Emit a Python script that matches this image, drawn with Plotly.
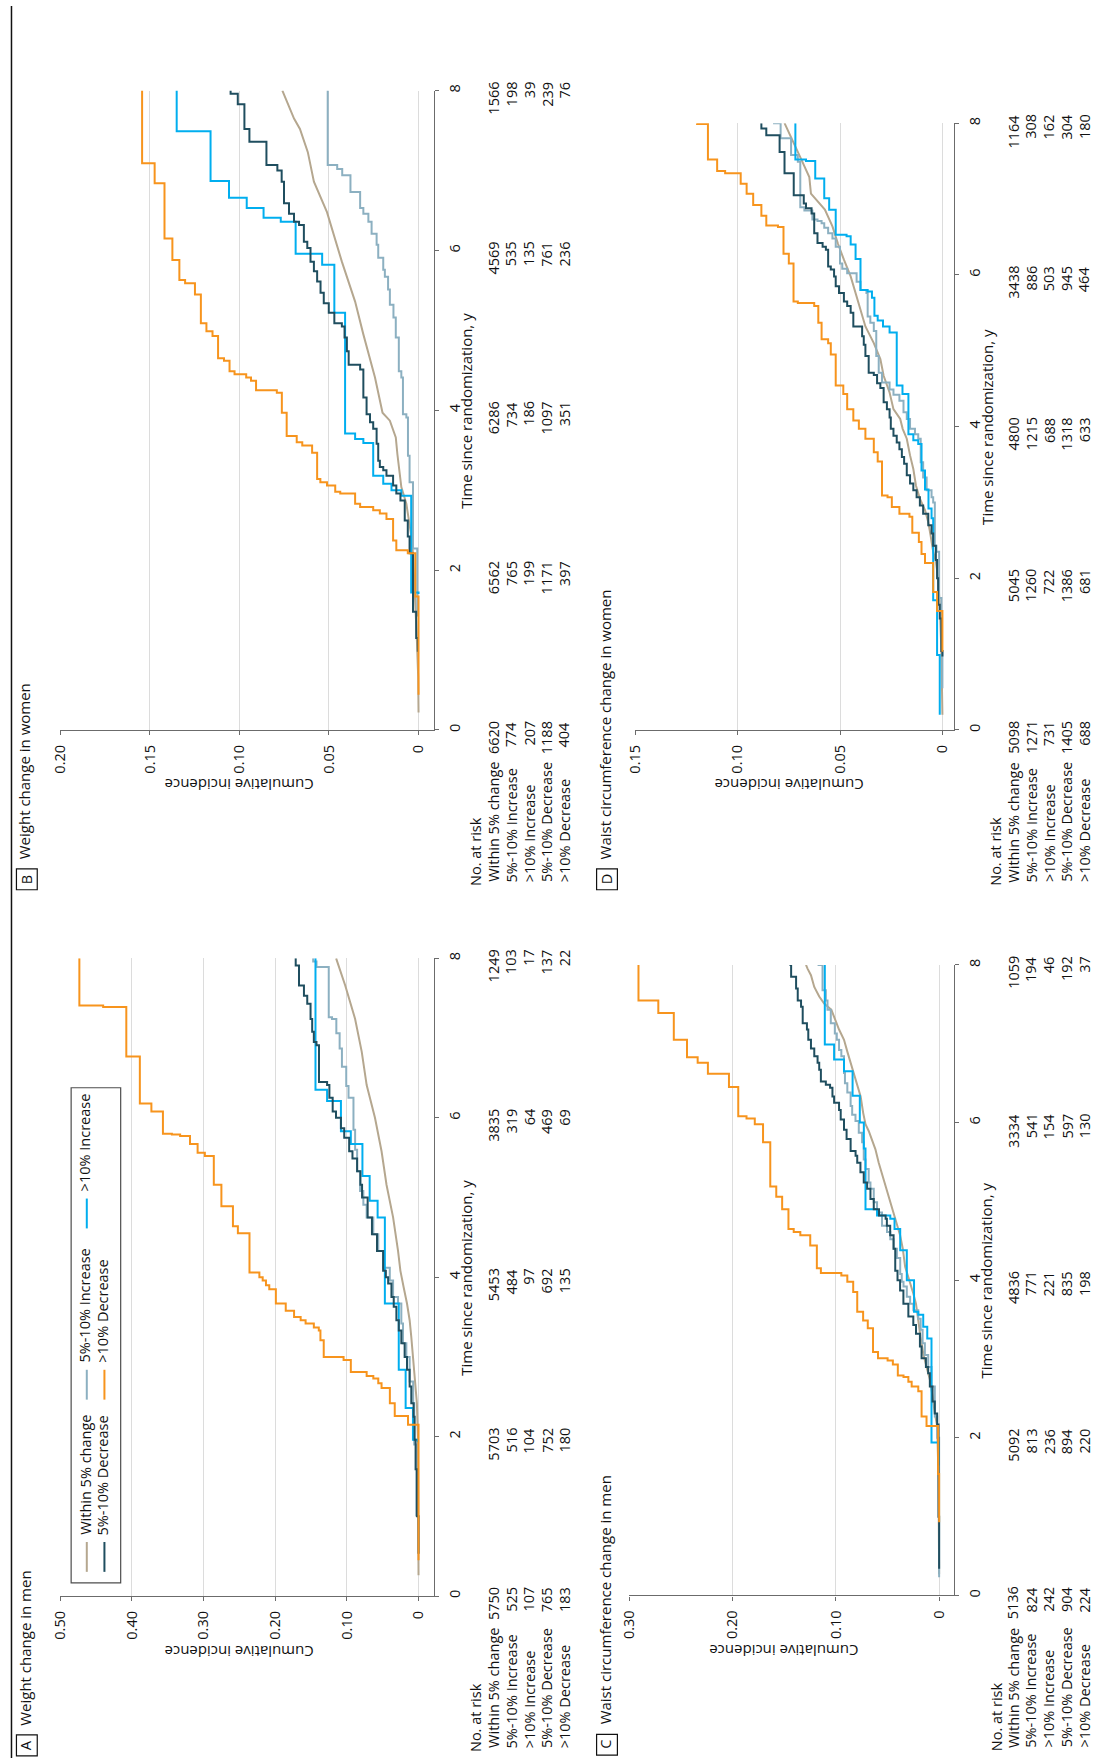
import plotly.graph_objects as go

W, H = 1095, 1760
FONT = "Open Sans"
TXT = "#111111"
AX = "#6b6b6b"
GRID = "#dcdcdc"

C_WITHIN = "#b5a78f"
C_INC5 = "#8cb0c1"
C_INC10 = "#00aeef"
C_DEC5 = "#1f4e5f"
C_DEC10 = "#f7941d"

TIME_TICKS = [0, 2, 4, 6, 8]
TIME_TICKTEXT = ["0", "2", "4", "6", "8"]
ROW_LABELS = ["Within 5% change", "5%-10% Increase", ">10% Increase", "5%-10% Decrease", ">10% Decrease"]

# ---------------- Panel A: Weight change in men ----------------
A_TICKS = [0, 0.1, 0.2, 0.3, 0.4, 0.5]
A_TICKTEXT = ["0", "0.10", "0.20", "0.30", "0.40", "0.50"]
A_within_t = [0.26, 1.59, 2.0, 2.42, 2.63, 2.84, 3.25, 3.46, 3.67, 3.87, 4.08, 4.33, 4.75, 5.16, 5.58, 6.0, 6.41, 6.83, 7.24, 7.66, 8.0]
A_within_v = [0, 0.0005, 0.0009, 0.0023, 0.0041, 0.0069, 0.0101, 0.0124, 0.0161, 0.0207, 0.0253, 0.0286, 0.0355, 0.0447, 0.0516, 0.0608, 0.0724, 0.0793, 0.0885, 0.1023, 0.1150]
A_inc5_t = [1.0, 1.9, 2.42, 2.69, 3.0, 3.17, 3.42, 3.67, 3.75, 3.96, 4.12, 4.33, 4.54, 4.75, 4.91, 5.08, 5.33, 5.6, 5.85, 6.25, 6.4, 6.64, 6.87, 7.06, 7.24, 7.26, 7.89, 7.96, 8.0]
A_inc5_v = [0.003, 0.006, 0.0075, 0.0124, 0.0170, 0.0217, 0.0240, 0.0286, 0.0355, 0.0401, 0.0493, 0.0562, 0.0631, 0.0724, 0.0770, 0.0816, 0.0857, 0.0885, 0.0908, 0.0977, 0.1009, 0.1069, 0.1101, 0.1147, 0.1207, 0.1253, 0.1424, 0.1470, 0.1470]
A_inc10_t = [1.93, 1.96, 2.36, 2.84, 3.67, 4.75, 4.96, 5.27, 5.67, 5.83, 6.21, 6.35, 8.0]
A_inc10_v = [0.001, 0.0078, 0.018, 0.0276, 0.047, 0.0571, 0.0682, 0.0783, 0.0945, 0.1083, 0.1276, 0.1438, 0.1438]
A_dec5_t = [0.53, 1.0, 1.59, 1.96, 2.25, 2.42, 2.63, 2.84, 3.0, 3.17, 3.33, 3.46, 3.63, 3.75, 3.92, 4.0, 4.08, 4.33, 4.54, 4.75, 5.0, 5.16, 5.33, 5.49, 5.58, 5.75, 5.87, 6.0, 6.08, 6.25, 6.41, 6.45, 6.91, 6.95, 7.08, 7.24, 7.43, 7.53, 7.66, 7.91, 8.0]
A_dec5_v = [0, 0.0023, 0.0041, 0.0055, 0.0069, 0.0101, 0.0124, 0.0161, 0.0194, 0.0240, 0.0276, 0.0309, 0.0346, 0.0378, 0.0424, 0.0456, 0.0494, 0.058, 0.065, 0.071, 0.0788, 0.0811, 0.0857, 0.0922, 0.0968, 0.1037, 0.1083, 0.1152, 0.1198, 0.1244, 0.1276, 0.1389, 0.1424, 0.1461, 0.1484, 0.1507, 0.1553, 0.1599, 0.1668, 0.1714, 0.1714]
A_dec10_t = [0.45, 2.15, 2.26, 2.42, 2.61, 2.67, 2.73, 2.76, 2.81, 2.96, 3.0, 3.21, 3.33, 3.37, 3.42, 3.46, 3.5, 3.58, 3.67, 3.85, 3.9, 3.96, 4.0, 4.06, 4.55, 4.64, 4.89, 5.16, 5.52, 5.56, 5.67, 5.77, 5.79, 5.8, 6.08, 6.18, 6.77, 7.39, 7.41, 8.0]
A_dec10_v = [0, 0.0147, 0.0332, 0.040, 0.0516, 0.0562, 0.0631, 0.0724, 0.0945, 0.1046, 0.1323, 0.1369, 0.1392, 0.1461, 0.1576, 0.1645, 0.1737, 0.1853, 0.1991, 0.2083, 0.2129, 0.2175, 0.2221, 0.2359, 0.2521, 0.259, 0.2751, 0.2857, 0.2982, 0.3083, 0.3189, 0.3327, 0.3442, 0.3567, 0.3728, 0.3889, 0.4078, 0.4401, 0.4733, 0.4733]
A_risk_within = [5750, 5703, 5453, 3835, 1249]
A_risk_inc5 = [525, 516, 484, 319, 103]
A_risk_inc10 = [107, 104, 97, 64, 17]
A_risk_dec5 = [765, 752, 692, 469, 137]
A_risk_dec10 = [183, 180, 135, 69, 22]

# ---------------- Panel B: Weight change in women ----------------
B_TICKS = [0, 0.05, 0.10, 0.15, 0.20]
B_TICKTEXT = ["0", "0.05", "0.10", "0.15", "0.20"]
B_within_t = [0.22, 0.67, 1.17, 1.59, 2.21, 2.42, 2.62, 2.83, 3.04, 3.25, 3.45, 3.66, 3.87, 3.97, 4.41, 4.95, 5.36, 5.86, 6.19, 6.48, 6.86, 7.23, 7.52, 7.65, 8.0]
B_within_v = [0, 0.0002, 0.001, 0.0017, 0.0031, 0.004, 0.0053, 0.0068, 0.0096, 0.0109, 0.0118, 0.0127, 0.016, 0.0201, 0.0243, 0.0308, 0.0354, 0.0428, 0.0474, 0.0511, 0.0584, 0.0618, 0.0662, 0.0695, 0.076]
B_inc5_t = [1.42, 2.27, 3.10, 3.43, 3.91, 3.95, 4.41, 4.49, 4.91, 5.16, 5.32, 5.51, 5.67, 5.76, 5.91, 6.07, 6.21, 6.36, 6.46, 6.53, 6.73, 6.94, 7.02, 7.07, 8.0]
B_inc5_v = [0.0007, 0.0031, 0.005, 0.0059, 0.0068, 0.0087, 0.0096, 0.011, 0.0127, 0.014, 0.016, 0.017, 0.0188, 0.0197, 0.0225, 0.0234, 0.0262, 0.028, 0.0308, 0.0326, 0.038, 0.0426, 0.0454, 0.0507, 0.0507]
B_inc10_t = [1.70, 1.72, 2.93, 3.0, 3.08, 3.18, 3.59, 3.64, 3.71, 5.22, 5.82, 5.96, 6.36, 6.41, 6.53, 6.66, 6.87, 7.49, 8.0]
B_inc10_v = [0.0, 0.0041, 0.0096, 0.0151, 0.0197, 0.0253, 0.0308, 0.0354, 0.041, 0.047, 0.0538, 0.0686, 0.0769, 0.0865, 0.0959, 0.1058, 0.1161, 0.135, 0.135]
B_dec5_t = [0.98, 1.15, 1.48, 2.21, 2.42, 2.62, 2.87, 2.96, 3.06, 3.18, 3.25, 3.29, 3.37, 3.58, 3.77, 3.85, 3.95, 4.16, 4.51, 4.57, 4.74, 4.91, 5.05, 5.09, 5.22, 5.34, 5.47, 5.61, 5.74, 5.86, 6.03, 6.11, 6.32, 6.36, 6.46, 6.59, 6.86, 7.0, 7.07, 7.36, 7.52, 7.83, 7.96, 8.0]
B_dec5_v = [0.0004, 0.0013, 0.0031, 0.005, 0.006, 0.0077, 0.0101, 0.0124, 0.0142, 0.0179, 0.0197, 0.0216, 0.0225, 0.0234, 0.0253, 0.0271, 0.029, 0.0308, 0.0326, 0.039, 0.04, 0.0413, 0.0428, 0.047, 0.0501, 0.0529, 0.0547, 0.0566, 0.0584, 0.0603, 0.0621, 0.064, 0.0667, 0.0695, 0.0723, 0.0751, 0.0764, 0.0788, 0.0849, 0.0944, 0.0972, 0.1009, 0.1049, 0.1049]
B_dec10_t = [0.44, 1.67, 2.21, 2.25, 2.37, 2.64, 2.71, 2.75, 2.79, 2.83, 2.96, 2.98, 3.06, 3.10, 3.14, 3.47, 3.56, 3.60, 3.68, 3.97, 4.22, 4.25, 4.37, 4.41, 4.45, 4.49, 4.62, 4.65, 4.93, 4.99, 5.09, 5.45, 5.59, 5.63, 5.88, 6.15, 6.84, 7.09, 8.0]
B_dec10_v = [0, 0.0018, 0.006, 0.0124, 0.0142, 0.0179, 0.0216, 0.0253, 0.0326, 0.0354, 0.0437, 0.0465, 0.0511, 0.0548, 0.0566, 0.0594, 0.0649, 0.068, 0.0736, 0.0763, 0.0791, 0.0907, 0.0935, 0.0962, 0.1027, 0.1055, 0.1086, 0.1119, 0.115, 0.1184, 0.1215, 0.1248, 0.1303, 0.1335, 0.1374, 0.1418, 0.1473, 0.1543, 0.1543]
B_risk_within = [6620, 6562, 6286, 4569, 1566]
B_risk_inc5 = [774, 765, 734, 535, 198]
B_risk_inc10 = [207, 199, 186, 135, 39]
B_risk_dec5 = [1188, 1171, 1097, 761, 239]
B_risk_dec10 = [404, 397, 351, 236, 76]

# ---------------- Panel C: Waist circumference change in men ----------------
C_TICKS = [0, 0.1, 0.2, 0.3]
C_TICKTEXT = ["0", "0.10", "0.20", "0.30"]
C_within_t = [0.27, 1.5, 2.15, 2.31, 2.53, 2.74, 2.9, 3.07, 3.28, 3.49, 3.7, 3.83, 3.96, 4.08, 4.17, 4.4, 4.57, 4.78, 4.92, 5.07, 5.2, 5.32, 5.49, 5.66, 5.79, 5.89, 5.98, 6.12, 6.33, 6.5, 6.59, 6.73, 6.9, 7.05, 7.18, 7.34, 7.43, 7.51, 7.6, 7.72, 7.87, 7.95, 8.0]
C_within_v = [0, 0.0006, 0.0019, 0.0042, 0.0064, 0.009, 0.0122, 0.0154, 0.018, 0.0202, 0.0224, 0.025, 0.0281, 0.0313, 0.0329, 0.0352, 0.0378, 0.0425, 0.0457, 0.0489, 0.0521, 0.0553, 0.0585, 0.0617, 0.0649, 0.0681, 0.0713, 0.0735, 0.076, 0.0799, 0.0819, 0.0857, 0.0889, 0.0921, 0.0969, 0.1017, 0.1043, 0.1113, 0.1161, 0.1209, 0.1241, 0.1273, 0.1289]
C_inc5_t = [0.23, 2.0, 2.27, 2.65, 2.9, 3.05, 3.2, 3.37, 3.51, 3.62, 3.7, 3.79, 3.92, 3.98, 4.08, 4.28, 4.4, 4.52, 4.61, 4.69, 4.86, 4.99, 5.16, 5.24, 5.41, 5.53, 5.75, 5.87, 6.02, 6.1, 6.21, 6.38, 6.5, 6.63, 6.84, 6.92, 7.05, 7.13, 7.26, 7.43, 7.55, 7.68, 8.0]
C_inc5_v = [0, 0.0019, 0.0042, 0.0074, 0.0106, 0.0138, 0.016, 0.0179, 0.0202, 0.0249, 0.0281, 0.0313, 0.0345, 0.0362, 0.0377, 0.0409, 0.0441, 0.0473, 0.0505, 0.0553, 0.0601, 0.0633, 0.0665, 0.0682, 0.0713, 0.073, 0.0746, 0.0778, 0.081, 0.0842, 0.0857, 0.0889, 0.0912, 0.0921, 0.0947, 0.0969, 0.0991, 0.101, 0.1049, 0.1081, 0.1097, 0.1129, 0.1177]
C_inc10_t = [1.65, 1.94, 3.26, 3.41, 3.56, 3.6, 4.0, 4.38, 4.65, 4.78, 4.82, 4.9, 5.67, 6.0, 6.34, 6.65, 6.8, 6.99, 8.0]
C_inc10_v = [0.0006, 0.0074, 0.0115, 0.0154, 0.0202, 0.0243, 0.0313, 0.0377, 0.0432, 0.0473, 0.0601, 0.0713, 0.0729, 0.0768, 0.0838, 0.0921, 0.1017, 0.1107, 0.1107]
C_dec5_t = [0.34, 1.0, 2.17, 2.31, 2.46, 2.65, 2.82, 2.9, 3.01, 3.16, 3.32, 3.43, 3.54, 3.7, 3.87, 4.0, 4.12, 4.4, 4.57, 4.69, 4.78, 4.82, 4.9, 5.03, 5.16, 5.24, 5.37, 5.49, 5.58, 5.64, 5.79, 5.91, 6.04, 6.16, 6.25, 6.33, 6.44, 6.48, 6.52, 6.67, 6.76, 6.84, 6.94, 7.05, 7.18, 7.26, 7.47, 7.55, 7.7, 7.85, 8.0]
C_dec5_v = [0, 0.0006, 0.0019, 0.0042, 0.0064, 0.009, 0.0106, 0.0128, 0.017, 0.0186, 0.0224, 0.025, 0.0298, 0.0346, 0.0378, 0.0403, 0.0425, 0.0441, 0.0474, 0.0506, 0.0518, 0.0582, 0.0633, 0.0665, 0.0697, 0.073, 0.0762, 0.0793, 0.0809, 0.0857, 0.0896, 0.0921, 0.0953, 0.0969, 0.1017, 0.1033, 0.1056, 0.1097, 0.1145, 0.1161, 0.1177, 0.1209, 0.1241, 0.1267, 0.128, 0.1321, 0.1337, 0.1369, 0.1385, 0.1433, 0.1449]
C_dec10_t = [0.93, 1.54, 2.15, 2.27, 2.59, 2.65, 2.71, 2.77, 2.79, 2.93, 2.98, 3.01, 3.09, 3.39, 3.49, 3.6, 3.85, 3.98, 4.06, 4.09, 4.15, 4.44, 4.57, 4.61, 4.65, 4.9, 5.06, 5.19, 5.75, 5.98, 6.05, 6.08, 6.45, 6.62, 6.76, 6.83, 7.05, 7.39, 7.55, 8.0]
C_dec10_v = [0, 0.001, 0.0122, 0.017, 0.0202, 0.0266, 0.0298, 0.0345, 0.04, 0.0448, 0.0499, 0.0592, 0.064, 0.0691, 0.0736, 0.0793, 0.0832, 0.0889, 0.0947, 0.1145, 0.1184, 0.1248, 0.1344, 0.1408, 0.1459, 0.152, 0.1577, 0.1635, 0.1705, 0.1785, 0.1865, 0.1945, 0.2035, 0.2239, 0.2338, 0.2441, 0.2569, 0.2719, 0.2911, 0.2911]
C_risk_within = [5136, 5092, 4836, 3334, 1059]
C_risk_inc5 = [824, 813, 771, 541, 194]
C_risk_inc10 = [242, 236, 221, 154, 46]
C_risk_dec5 = [904, 894, 835, 597, 192]
C_risk_dec10 = [224, 220, 198, 130, 37]

# ---------------- Panel D: Waist circumference change in women ----------------
D_TICKS = [0, 0.05, 0.10, 0.15]
D_TICKTEXT = ["0", "0.05", "0.10", "0.15"]
D_within_t = [0.2, 1.04, 1.65, 2.0, 2.22, 2.35, 2.57, 2.74, 2.9, 3.05, 3.22, 3.44, 3.62, 3.84, 3.97, 4.1, 4.23, 4.45, 4.67, 4.89, 5.1, 5.32, 5.54, 5.76, 5.98, 6.2, 6.41, 6.64, 6.86, 7.07, 7.29, 7.51, 7.73, 8.0]
D_within_v = [0, 0.0005, 0.0013, 0.0021, 0.0032, 0.0045, 0.0058, 0.0069, 0.0085, 0.011, 0.0129, 0.0142, 0.0158, 0.0174, 0.0194, 0.0206, 0.0239, 0.0258, 0.0287, 0.0303, 0.0335, 0.0376, 0.04, 0.0424, 0.0448, 0.0481, 0.051, 0.0537, 0.0574, 0.0642, 0.065, 0.0687, 0.0723, 0.0771]
D_inc5_t = [0.55, 1.04, 1.74, 2.35, 2.43, 3.0, 3.07, 3.16, 3.33, 3.53, 3.84, 3.9, 3.97, 4.1, 4.19, 4.34, 4.42, 4.49, 4.58, 4.71, 4.93, 5.26, 5.37, 5.45, 5.76, 5.8, 5.91, 6.02, 6.08, 6.15, 6.37, 6.48, 6.55, 6.62, 6.68, 6.71, 6.73, 6.85, 6.89, 7.49, 7.58, 7.8, 8.0]
D_inc5_v = [0, 0.0005, 0.0016, 0.0029, 0.0037, 0.0045, 0.0053, 0.0077, 0.0094, 0.0106, 0.0118, 0.0134, 0.0158, 0.0174, 0.019, 0.021, 0.0239, 0.0258, 0.0295, 0.0311, 0.0323, 0.0335, 0.0352, 0.0365, 0.0371, 0.04, 0.0419, 0.0465, 0.0489, 0.05, 0.0521, 0.0537, 0.0558, 0.0577, 0.059, 0.061, 0.0635, 0.0674, 0.0694, 0.0706, 0.0739, 0.079, 0.0827]
D_inc10_t = [0.2, 0.99, 1.71, 2.79, 2.92, 3.17, 3.42, 3.77, 3.82, 3.9, 4.43, 4.54, 5.24, 5.32, 5.4, 5.46, 5.7, 5.78, 5.8, 6.21, 6.4, 6.51, 6.53, 6.86, 7.01, 7.27, 7.5, 7.52, 8.0]
D_inc10_v = [0.0013, 0.0026, 0.0045, 0.0053, 0.0068, 0.0085, 0.0102, 0.0118, 0.0142, 0.0166, 0.0195, 0.0223, 0.0258, 0.029, 0.0316, 0.0332, 0.0344, 0.0365, 0.04, 0.0424, 0.0448, 0.0468, 0.0521, 0.0553, 0.0577, 0.0621, 0.0666, 0.0718, 0.0718]
D_dec5_t = [0.97, 1.04, 1.47, 1.65, 2.0, 2.24, 2.43, 2.59, 2.7, 2.85, 2.96, 3.07, 3.16, 3.25, 3.36, 3.51, 3.6, 3.7, 3.79, 3.88, 3.97, 4.12, 4.23, 4.32, 4.51, 4.57, 4.68, 4.71, 4.93, 5.08, 5.19, 5.32, 5.5, 5.59, 5.65, 5.76, 5.85, 5.98, 6.07, 6.11, 6.33, 6.37, 6.42, 6.55, 6.81, 6.88, 6.94, 7.05, 7.34, 7.62, 7.84, 7.93, 8.0]
D_dec5_v = [0, 0.0005, 0.0013, 0.0021, 0.0026, 0.0032, 0.0045, 0.0053, 0.0069, 0.0094, 0.011, 0.0126, 0.0142, 0.0158, 0.0174, 0.0187, 0.0198, 0.021, 0.0223, 0.0239, 0.0252, 0.0258, 0.0271, 0.0287, 0.0303, 0.0319, 0.0335, 0.036, 0.0376, 0.0384, 0.0392, 0.0435, 0.0448, 0.0465, 0.0481, 0.0505, 0.0521, 0.0529, 0.0545, 0.0558, 0.0569, 0.0585, 0.061, 0.0626, 0.0639, 0.0666, 0.0677, 0.0726, 0.0771, 0.0795, 0.086, 0.0884, 0.0884]
D_dec10_t = [1.03, 1.57, 1.82, 2.2, 2.32, 2.48, 2.6, 2.81, 2.85, 2.94, 3.07, 3.09, 3.54, 3.66, 3.84, 3.97, 4.08, 4.23, 4.43, 4.54, 4.95, 5.1, 5.15, 5.37, 5.59, 5.63, 5.65, 6.15, 6.28, 6.63, 6.65, 6.78, 6.92, 7.07, 7.2, 7.34, 7.37, 7.52, 7.99, 8.0]
D_dec10_v = [0, 0.0026, 0.0045, 0.0085, 0.0102, 0.0115, 0.0147, 0.0161, 0.021, 0.0247, 0.0268, 0.0295, 0.0316, 0.0335, 0.0376, 0.0408, 0.0435, 0.0465, 0.0484, 0.0521, 0.0545, 0.0558, 0.059, 0.0606, 0.0626, 0.0706, 0.0727, 0.075, 0.0776, 0.0803, 0.086, 0.0884, 0.0924, 0.0956, 0.0985, 0.1061, 0.110, 0.1145, 0.1198, 0.1198]
D_risk_within = [5098, 5045, 4800, 3438, 1164]
D_risk_inc5 = [1271, 1260, 1215, 886, 308]
D_risk_inc10 = [731, 722, 688, 503, 162]
D_risk_dec5 = [1405, 1386, 1318, 945, 304]
D_risk_dec10 = [688, 681, 633, 464, 180]

# ---------------- layout geometry (pixels of the 1095x1760 page) ----------------
PANELS = [
    dict(n=1, letter="A", title="Weight change in men", x0=50.7, xz=412.3, x1=427.7, yt8=956.7, yt0=1597.3,
         vmax=0.5, ticks=A_TICKS, ticktext=A_TICKTEXT, lab_x=17,
         series=[(A_within_t, A_within_v, C_WITHIN, "linear"), (A_inc5_t, A_inc5_v, C_INC5, "vh"),
                 (A_inc10_t, A_inc10_v, C_INC10, "vh"), (A_dec5_t, A_dec5_v, C_DEC5, "vh"),
                 (A_dec10_t, A_dec10_v, C_DEC10, "vh")],
         risk=[A_risk_within, A_risk_inc5, A_risk_inc10, A_risk_dec5, A_risk_dec10]),
    dict(n=2, letter="B", title="Weight change in women", x0=50.7, xz=412.3, x1=427.7, yt8=85.0, yt0=727.3,
         vmax=0.2, ticks=B_TICKS, ticktext=B_TICKTEXT, lab_x=17,
         series=[(B_within_t, B_within_v, C_WITHIN, "linear"), (B_inc5_t, B_inc5_v, C_INC5, "vh"),
                 (B_inc10_t, B_inc10_v, C_INC10, "vh"), (B_dec5_t, B_dec5_v, C_DEC5, "vh"),
                 (B_dec10_t, B_dec10_v, C_DEC10, "vh")],
         risk=[B_risk_within, B_risk_inc5, B_risk_inc10, B_risk_dec5, B_risk_dec10]),
    dict(n=3, letter="C", title="Waist circumference change in men", x0=625.0, xz=937.7, x1=952.3, yt8=963.3, yt0=1596.7,
         vmax=0.3, ticks=C_TICKS, ticktext=C_TICKTEXT, lab_x=602.5,
         series=[(C_within_t, C_within_v, C_WITHIN, "linear"), (C_inc5_t, C_inc5_v, C_INC5, "vh"),
                 (C_inc10_t, C_inc10_v, C_INC10, "vh"), (C_dec5_t, C_dec5_v, C_DEC5, "vh"),
                 (C_dec10_t, C_dec10_v, C_DEC10, "vh")],
         risk=[C_risk_within, C_risk_inc5, C_risk_inc10, C_risk_dec5, C_risk_dec10]),
    dict(n=4, letter="D", title="Waist circumference change in women", x0=631.0, xz=941.0, x1=952.3, yt8=117.7, yt0=727.3,
         vmax=0.15, ticks=D_TICKS, ticktext=D_TICKTEXT, lab_x=602.5,
         series=[(D_within_t, D_within_v, C_WITHIN, "linear"), (D_inc5_t, D_inc5_v, C_INC5, "vh"),
                 (D_inc10_t, D_inc10_v, C_INC10, "vh"), (D_dec5_t, D_dec5_v, C_DEC5, "vh"),
                 (D_dec10_t, D_dec10_v, C_DEC10, "vh")],
         risk=[D_risk_within, D_risk_inc5, D_risk_inc10, D_risk_dec5, D_risk_dec10]),
]

DX = -2  # small visual correction for rotated text boxes


def px(x):
    return x / W


def py(y):
    return 1 - y / H


fig = go.Figure()
annotations = []
shapes = []
layout_axes = {}

TICK_FONT = dict(family=FONT, size=14.5, color=TXT)
TAB_FONT = dict(family=FONT, size=14.5, color=TXT)
AXT_FONT = dict(family=FONT, size=15, color=TXT)
TITLE_FONT = dict(family=FONT, size=15, color=TXT)

for p in PANELS:
    n = p["n"]
    xname = "xaxis" if n == 1 else f"xaxis{n}"
    yname = "yaxis" if n == 1 else f"yaxis{n}"
    xref = "x" if n == 1 else f"x{n}"
    yref = "y" if n == 1 else f"y{n}"
    scale = (p["xz"] - p["x0"]) / p["vmax"]
    vmin = -(p["x1"] - p["xz"]) / scale

    layout_axes[xname] = dict(
        domain=[px(p["x0"]), px(p["x1"])], range=[p["vmax"], vmin], anchor=yref,
        tickmode="array", tickvals=p["ticks"], ticktext=p["ticktext"], tickangle=-90,
        ticks="outside", ticklen=4, tickwidth=1.2, tickcolor=AX,
        showline=True, linecolor=AX, linewidth=1.3,
        showgrid=True, gridcolor=GRID, gridwidth=1.3, zeroline=False,
        tickfont=TICK_FONT, ticklabelstandoff=4, fixedrange=True)
    layout_axes[yname] = dict(
        domain=[py(p["yt0"]), py(p["yt8"])], range=[0, 8], anchor=xref, side="right",
        tickmode="array", tickvals=TIME_TICKS, ticktext=TIME_TICKTEXT, tickangle=-90,
        ticks="outside", ticklen=4, tickwidth=1.2, tickcolor=AX,
        showline=True, linecolor=AX, linewidth=1.3,
        showgrid=False, zeroline=False, tickfont=TICK_FONT, ticklabelstandoff=4, fixedrange=True)

    for t, v, col, shape in p["series"]:
        fig.add_trace(go.Scatter(x=v, y=t, xaxis=xref, yaxis=yref, mode="lines",
                                 line=dict(color=col, width=2, shape=shape),
                                 showlegend=False, hoverinfo="skip"))

    # axis titles
    annotations.append(dict(text="Cumulative incidence", textangle=180, xref="paper", yref="paper",
                            x=px((p["x0"] + p["xz"]) / 2), y=py(p["yt0"] + 56), xanchor="center",
                            yanchor="middle", showarrow=False, font=AXT_FONT))
    annotations.append(dict(text="Time since randomization, y", textangle=-90, xref="paper", yref="paper",
                            x=px(p["x1"] + 35 + DX), y=py((p["yt0"] + p["yt8"]) / 2), xanchor="center",
                            yanchor="middle", showarrow=False, font=AXT_FONT))

    # number at risk table
    annotations.append(dict(text="No. at risk", textangle=-90, xref="paper", yref="paper",
                            x=px(p["x1"] + 44.8 + DX), y=py(p["yt0"] + 159), xanchor="center",
                            yanchor="bottom", showarrow=False, font=TAB_FONT))
    for r, (lab, counts) in enumerate(zip(ROW_LABELS, p["risk"])):
        rx = p["x1"] + 62.3 + 17.9 * r + DX
        annotations.append(dict(text=lab, textangle=-90, xref="paper", yref="paper",
                                x=px(rx), y=py(p["yt0"] + 155), xanchor="center",
                                yanchor="bottom", showarrow=False, font=TAB_FONT))
        for tt, cnt in zip(TIME_TICKS, counts):
            annotations.append(dict(text=str(cnt), textangle=-90, xref="paper", yref=yref,
                                    x=px(rx), y=tt, xanchor="center", yanchor="top", yshift=11,
                                    showarrow=False, font=TAB_FONT))

    # panel letter box and title
    lab_y = p["yt0"] + 150
    shapes.append(dict(type="rect", xref="paper", yref="paper",
                       x0=px(p["lab_x"] - 10.5), x1=px(p["lab_x"] + 10.5),
                       y0=py(lab_y - 10.5), y1=py(lab_y + 10.5),
                       line=dict(color=TXT, width=1.2), fillcolor="rgba(0,0,0,0)"))
    annotations.append(dict(text=p["letter"], textangle=-90, xref="paper", yref="paper",
                            x=px(p["lab_x"] - 1), y=py(lab_y), xanchor="center", yanchor="middle",
                            showarrow=False, font=dict(family=FONT, size=14.5, color=TXT)))
    annotations.append(dict(text=p["title"], textangle=-90, xref="paper", yref="paper",
                            x=px(p["lab_x"] + DX), y=py(lab_y - 18), xanchor="center", yanchor="bottom",
                            showarrow=False, font=TITLE_FONT))

# legend (panel A) drawn manually, rotated like the figure
LEG_BOX = (61.7, 111.7, 1086.7, 1584.0)
shapes.append(dict(type="rect", xref="paper", yref="paper",
                   x0=px(LEG_BOX[0]), x1=px(LEG_BOX[1]), y0=py(LEG_BOX[3]), y1=py(LEG_BOX[2]),
                   line=dict(color="#4d4d4d", width=1.2), fillcolor="white", layer="above"))
LEGEND_ITEMS = [
    ("Within 5% change", C_WITHIN, 77.5, 1573),
    ("5%-10% Increase", C_INC5, 77.5, 1400),
    (">10% Increase", C_INC10, 77.5, 1228),
    ("5%-10% Decrease", C_DEC5, 95.3, 1573),
    (">10% Decrease", C_DEC10, 95.3, 1400),
]
for lab, col, lx, lyb in LEGEND_ITEMS:
    shapes.append(dict(type="line", xref="paper", yref="paper", x0=px(lx), x1=px(lx),
                       y0=py(lyb), y1=py(lyb - 30), line=dict(color=col, width=2), layer="above"))
    annotations.append(dict(text=lab, textangle=-90, xref="paper", yref="paper",
                            x=px(lx + DX), y=py(lyb - 35), xanchor="center", yanchor="bottom",
                            showarrow=False, font=TAB_FONT))

# left border rule
shapes.append(dict(type="line", xref="paper", yref="paper", x0=px(1.5), x1=px(1.5), y0=0, y1=1,
                   line=dict(color=TXT, width=1.5)))

fig.update_layout(
    width=W, height=H, autosize=False,
    margin=dict(l=0, r=0, t=0, b=0),
    paper_bgcolor="white", plot_bgcolor="white",
    showlegend=False,
    annotations=annotations, shapes=shapes,
    font=dict(family=FONT, color=TXT),
    **layout_axes,
)

fig.write_html("out.html", config={"displayModeBar": False},
               post_script="document.body.style.margin='0px';document.body.style.padding='0px';"
                           "document.documentElement.style.margin='0px';")
